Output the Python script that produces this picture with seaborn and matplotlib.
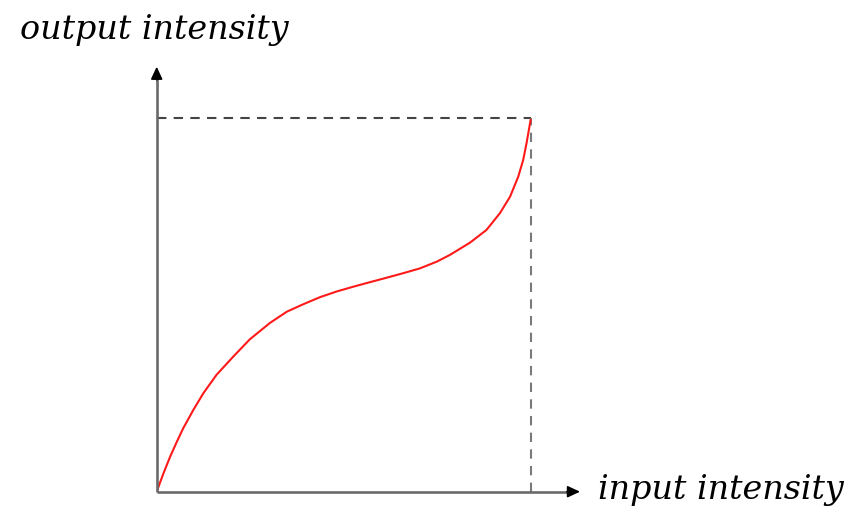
import seaborn as sns
import matplotlib.pyplot as plt
import pandas as pd

# curve, normalised to 0..1
input_intensity = [0.0, 0.018, 0.036, 0.054, 0.071, 0.098, 0.125, 0.160, 0.205,
                   0.249, 0.303, 0.348, 0.392, 0.437, 0.481, 0.526, 0.570, 0.615,
                   0.659, 0.704, 0.749, 0.784, 0.838, 0.882, 0.918, 0.945, 0.967,
                   0.980, 0.989, 1.0]
output_intensity = [0.0, 0.049, 0.094, 0.134, 0.170, 0.219, 0.264, 0.313, 0.362,
                    0.408, 0.452, 0.482, 0.502, 0.521, 0.536, 0.549, 0.561, 0.573,
                    0.585, 0.598, 0.616, 0.634, 0.667, 0.701, 0.746, 0.790, 0.844,
                    0.888, 0.933, 0.996]

x_label = "input intensity"
y_label = "output intensity"

df = pd.DataFrame({"input": input_intensity, "output": output_intensity})

sns.set_style("white")

fig = plt.figure(figsize=(8.53, 5.12), dpi=100)
ax = fig.add_axes([156.7 / 853, 20.3 / 512, 423.3 / 853, 425 / 512])

x_max = 1.132
y_max = 1.138

# dashed guide lines to the curve's end point
ax.plot([0, 1], [1, 1], color="#444444", lw=1.5, ls=(0, (4.5, 3.5)))
ax.plot([1, 1], [0, 1], color="#7a7a7a", lw=1.5, ls=(0, (4.5, 3.5)))

# the curve
sns.lineplot(data=df, x="input", y="output", ax=ax, color="#ff1a1a", lw=1.5,
             sort=False)

# axes: grey shafts with black heads
ax.plot([0, x_max - 0.02], [0, 0], color="#6a6a6a", lw=1.9, clip_on=False,
        solid_capstyle="butt")
ax.plot([0, 0], [0, y_max - 0.02], color="#6a6a6a", lw=1.9, clip_on=False,
        solid_capstyle="butt")
head = dict(arrowstyle="-|>,head_length=0.75,head_width=0.35", color="black",
            lw=1.2, shrinkA=0, shrinkB=0)
ax.annotate("", xy=(x_max, 0), xytext=(x_max - 0.035, 0), arrowprops=head,
            annotation_clip=False)
ax.annotate("", xy=(0, y_max), xytext=(0, y_max - 0.035), arrowprops=head,
            annotation_clip=False)

ax.set_xlim(0, x_max)
ax.set_ylim(0, y_max)
ax.set_xlabel("")
ax.set_ylabel("")
ax.set_xticks([])
ax.set_yticks([])
for s in ax.spines.values():
    s.set_visible(False)

fig.text(20 / 853, 1 - 30 / 512, y_label, family="DejaVu Serif", style="italic",
         fontsize=24, va="center", ha="left", color="black")
fig.text(598 / 853, 1 - 490 / 512, x_label, family="DejaVu Serif", style="italic",
         fontsize=24, va="center", ha="left", color="black")

fig.savefig("out.png", dpi=100)
